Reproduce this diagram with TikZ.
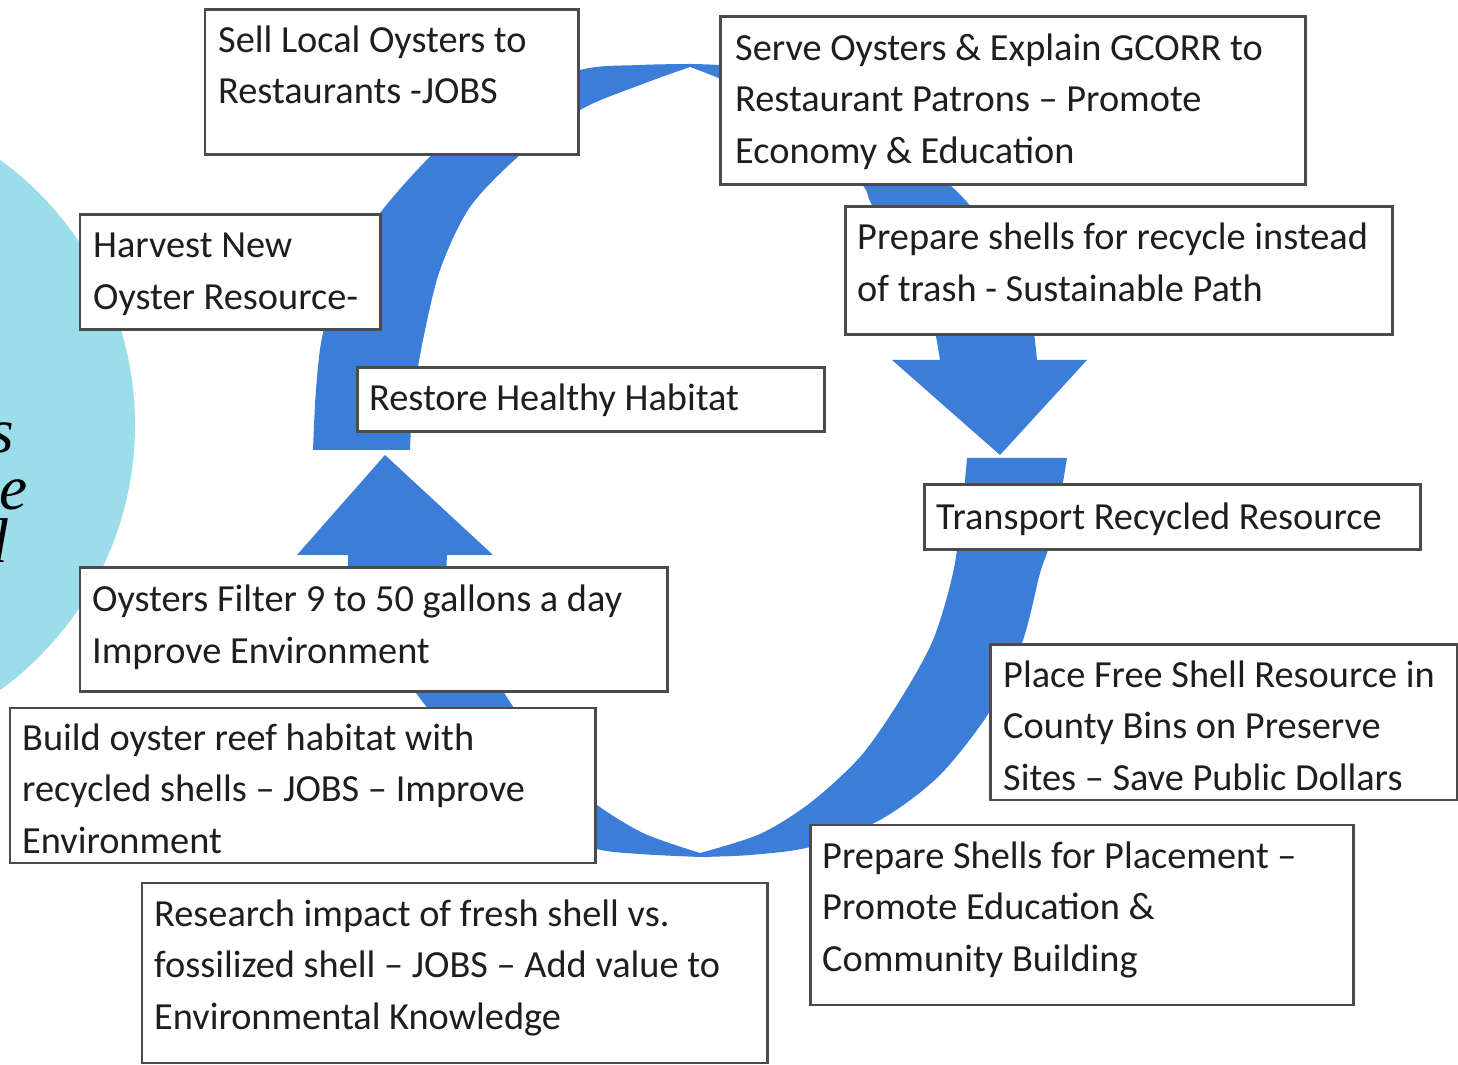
\documentclass[tikz,border=0pt]{standalone}
\usepackage{fontspec}
\setmainfont{Carlito}
\newfontfamily\circfont{Liberation Serif}
\usetikzlibrary{fit,calc}
\definecolor{ringblue}{RGB}{60,125,215}
\definecolor{cyanbg}{RGB}{155,222,233}
\definecolor{boxline}{RGB}{75,75,75}
\definecolor{txtcol}{RGB}{30,30,30}
\begin{document}
\begin{tikzpicture}[x=0.01cm,y=-0.01cm,
  box/.style={draw=boxline, line width=0.85pt, fill=white, inner sep=0pt},
  lbl/.style={anchor=base west, inner sep=0pt, align=left, text=txtcol,
              font=\fontsize{10.9}{14.65}\selectfont},
  circtext/.style={anchor=base east, inner sep=0pt, text=black,
              font=\circfont\itshape\fontsize{18}{22}\selectfont},
  band/.style={fill=ringblue}
]
\useasboundingbox (0,0) rectangle (1458,1065);
\begin{scope}
\clip (0,0) rectangle (1458,1065);
% background circle
\fill[cyanbg] (-193,425) circle (328);
\node[circtext] (c1) at (15,453) {s};
\node[circtext] (c2) at (28,510) {e};
\node[circtext] (c3) at (9,563) {d};

% top-left crescent (flat end)
\fill[band] plot[smooth] coordinates {(313,450) (316,390) (323,333) (345,270) (380,213) (437,150) (500,103) (580,70) (640,65) (690,64)}
  -- plot[smooth] coordinates {(690,67) (640,85) (580,110) (520,155) (470,207) (440,270) (423,340) (413,400) (410,450)} -- cycle;

% top-right crescent with down arrow head
\fill[band] plot[smooth] coordinates {(690,64) (740,67) (810,83) (880,123) (950,185) (975,212) (1010,262) (1030,310) (1037,360)}
  -- (1087,360) -- (1000,455) -- (892,360) -- (940,360)
  -- plot[smooth] coordinates {(940,360) (928,300) (905,255) (872,205) (860,182) (800,128) (740,88) (690,67)} -- cycle;

% bottom-right crescent (flat end)
\fill[band] (967,458) -- plot[smooth] coordinates {(1067,458) (1058,510) (1048,550) (1040,573) (1023,640) (992,708) (940,775) (880,820) (810,847) (750,855) (700,857)}
  -- plot[smooth] coordinates {(700,853) (760,834) (810,803) (860,757) (900,700) (933,640) (953,573) (962,510) (967,458)} -- cycle;

% bottom-left crescent with up arrow head
\fill[band] plot[smooth] coordinates {(700,857) (640,854) (593,848) (528,820) (472,777) (430,712) (380,645) (348,592)}
  -- (348,555) -- (297,555) -- (385,455) -- (493,555) -- (447,555)
  -- plot[smooth] coordinates {(445,595) (478,650) (512,705) (555,765) (593,802) (643,833) (700,853)} -- cycle;

% boxes
\node[box, fit={(205,10) (578,155)}] (sellbox) {};
\node[box, fit={(720,17) (1305,185)}] (servebox) {};
\node[box, fit={(80,215) (380,330)}] (harvbox) {};
\node[box, fit={(845,207) (1392,335)}] (prepbox) {};
\node[box, fit={(357,368) (824,432)}] (restbox) {};
\node[box, fit={(924,485) (1420,550)}] (transbox) {};
\node[box, fit={(80,568) (667,692)}] (filtbox) {};
\node[box, fit={(990,645) (1457,800)}] (placebox) {};
\node[box, fit={(10,708) (595,863)}] (buildbox) {};
\node[box, fit={(810,825) (1353,1005)}] (placementbox) {};
\node[box, fit={(142,883) (767,1063)}] (resbox) {};

% texts (anchor is the baseline of the last line)
\node[lbl] (sell) at ($(sellbox.north west)+(14,95.5)$) {Sell Local Oysters to\\Restaurants -JOBS};
\node[lbl] (serve) at ($(servebox.north west)+(16,148)$) {Serve Oysters \& Explain GCORR to\\Restaurant Patrons – Promote\\Economy \& Education};
\node[lbl] (harv) at ($(harvbox.north west)+(14,96)$) {Harvest New\\Oyster Resource-};
\node[lbl] (prep) at ($(prepbox.north west)+(13,96)$) {Prepare shells for recycle instead\\of trash - Sustainable Path};
\node[lbl] (rest) at ($(restbox.north west)+(13,44)$) {Restore Healthy Habitat};
\node[lbl] (trans) at ($(transbox.north west)+(13,46)$) {Transport Recycled Resource};
\node[lbl] (filt) at ($(filtbox.north west)+(13,97)$) {Oysters Filter 9 to 50 gallons a day\\Improve Environment};
\node[lbl] (place) at ($(placebox.north west)+(14,147)$) {Place Free Shell Resource in\\County Bins on Preserve\\Sites – Save Public Dollars};
\node[lbl] (build) at ($(buildbox.north west)+(13,147)$) {Build oyster reef habitat with\\recycled shells – JOBS – Improve\\Environment};
\node[lbl] (placement) at ($(placementbox.north west)+(13,148)$) {Prepare Shells for Placement –\\Promote Education \&\\Community Building};
\node[lbl] (res) at ($(resbox.north west)+(13,148)$) {Research impact of fresh shell vs.\\fossilized shell – JOBS – Add value to\\Environmental Knowledge};
\end{scope}
\end{tikzpicture}
\end{document}
